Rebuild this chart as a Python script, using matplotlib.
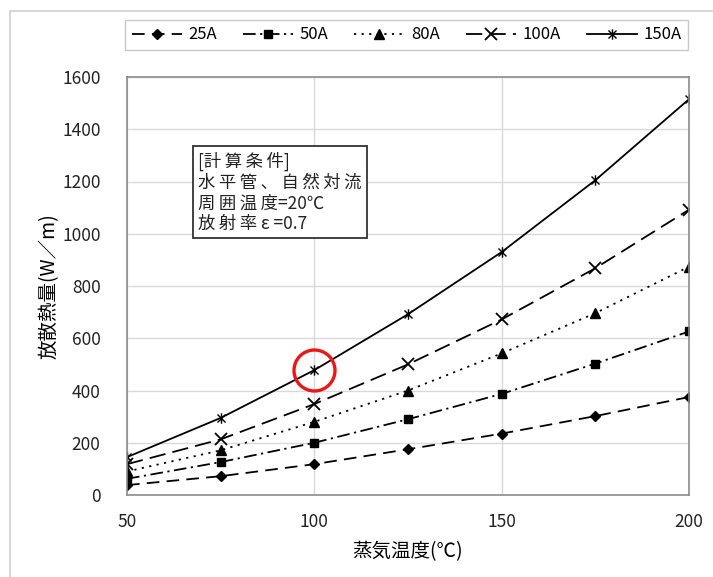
import numpy as np
import matplotlib.pyplot as plt
from matplotlib.path import Path
from matplotlib.patches import Rectangle

plt.rcParams['font.family'] = ['Noto Sans CJK JP', 'DejaVu Sans']

# 蒸気温度 (℃)
temp = [50, 75, 100, 125, 150, 175, 200]
# 放散熱量 (W/m) 管径ごと
q_25A = [38, 72, 118, 175, 235, 302, 375]
q_50A = [62, 126, 200, 290, 387, 503, 626]
q_80A = [90, 171, 280, 400, 542, 696, 874]
q_100A = [118, 213, 348, 500, 672, 868, 1092]
q_150A = [145, 295, 478, 692, 930, 1205, 1515]
labels = ["25A", "50A", "80A", "100A", "150A"]

conditions = ["[計算条件]", "水平管、自然対流", "周囲温度=20℃", "放射率 ε =0.7"]

# 印を付ける点 (150A, 100℃)
mark_idx = 2


def spaced(s):
    # 漢字の間を少し広げる
    out = ""
    for i, c in enumerate(s):
        out += c
        if i < len(s) - 1 and ord(c) > 0x2000 and ord(s[i + 1]) > 0x2000:
            out += "\u2009"
    return out


# x + vertical bar marker
star = Path([(-1, -1), (1, 1), (-1, 1), (1, -1), (0, -1.3), (0, 1.3)],
            [Path.MOVETO, Path.LINETO, Path.MOVETO, Path.LINETO, Path.MOVETO, Path.LINETO])

fig = plt.figure(figsize=(7.13, 5.77), dpi=100)
ax = fig.add_axes([127/713, 1-495/577, (689-127)/713, (495-77)/577])

# chart area frame
fig.patches.append(Rectangle((10/713, -0.1), 1.2, 1-11/577+0.1, transform=fig.transFigure,
                             fill=False, edgecolor="#d0d0d0", linewidth=1.2))

kw = dict(color="black", linewidth=1.3)
ax.plot(temp, q_25A, linestyle=(0, (7, 4)), marker="D", markersize=5.5, label=labels[0], **kw)
ax.plot(temp, q_50A, linestyle=(0, (7, 2.5, 1.2, 2.5)), marker="s", markersize=6, label=labels[1], **kw)
ax.plot(temp, q_80A, linestyle=(0, (1.2, 3)), marker="^", markersize=7, label=labels[2], **kw)
ax.plot(temp, q_100A, linestyle=(0, (9, 4)), marker="x", markersize=8, markeredgewidth=1.3,
        label=labels[3], **kw)
ax.plot(temp, q_150A, linestyle="-", marker=star, markersize=7.5, markeredgewidth=1.0, label=labels[4], **kw)

ax.plot(temp[mark_idx], q_150A[mark_idx], marker="o", markersize=29.5, markerfacecolor="none",
        markeredgecolor="#e81818", markeredgewidth=2.4, clip_on=False)

ax.set_xlim(50, 200)
ax.set_ylim(0, 1600)
ax.set_xticks([50, 100, 150, 200])
ax.set_yticks(np.arange(0, 1601, 200))
ax.grid(True, color="#d9d9d9", linewidth=1.0)
ax.set_axisbelow(True)
for s in ax.spines.values():
    s.set_color("#8c8c8c")
    s.set_linewidth(1.2)
ax.tick_params(axis="both", length=0, labelsize=12.5, colors="#222222")
ax.tick_params(axis="y", pad=19)
ax.tick_params(axis="x", pad=13)

ax.set_xlabel("蒸気温度(℃)", fontsize=14, labelpad=7)
ax.set_ylabel("放散熱量(W／m)", fontsize=14, labelpad=2)

ax.text(0.126, 0.822, "\n".join(spaced(t) for t in conditions),
        transform=ax.transAxes, fontsize=12.5, va="top", ha="left", linespacing=1.2,
        color="#222222",
        bbox=dict(boxstyle="square,pad=0.3", facecolor="white", edgecolor="#333333", linewidth=1.3))

leg = fig.legend(loc="lower left", bbox_to_anchor=(125/713, 1-50/577, (688-125)/713, 33/577),
                 mode="expand", ncol=5, fontsize=12, handlelength=3.0, handletextpad=0.4,
                 columnspacing=0.6, frameon=True, fancybox=False, borderaxespad=0)
leg.get_frame().set_edgecolor("#bbbbbb")
leg.get_frame().set_linewidth(1.0)

fig.savefig("out.png", dpi=100)
